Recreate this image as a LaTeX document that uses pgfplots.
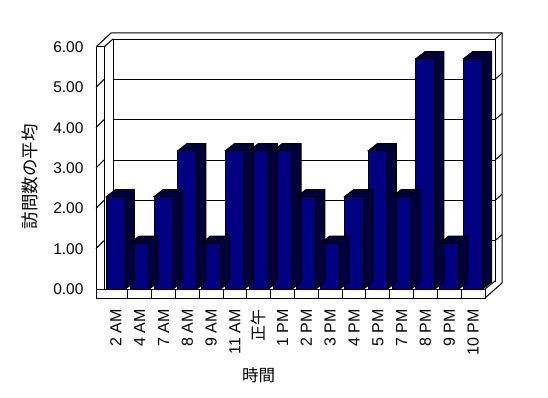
\documentclass[border=0pt]{standalone}
\usepackage{pgfplots}
\pgfplotsset{compat=1.18}
\usepackage{fontspec}
\setmainfont{Liberation Sans}
\newfontfamily\jp{Noto Sans CJK JP}
\definecolor{barfront}{RGB}{0,0,128}
\definecolor{bardepth}{RGB}{0,0,58}

\pgfdeclareplotmark{bar3d}{%
  \pgfpathmoveto{\pgfpoint{-9.5pt}{0pt}}%
  \pgfpathlineto{\pgfpoint{-0.5pt}{7pt}}%
  \pgfpathlineto{\pgfpoint{18.5pt}{7pt}}%
  \pgfpathlineto{\pgfpoint{18.5pt}{7pt-\myh*40.3333pt}}%
  \pgfpathlineto{\pgfpoint{9.5pt}{-\myh*40.3333pt}}%
  \pgfpathlineto{\pgfpoint{9.5pt}{0pt}}%
  \pgfpathclose
  \pgfusepathqfillstroke
}

\begin{document}
\begin{tikzpicture}
\useasboundingbox (0,0) rectangle (548pt,-398pt);
\fill[white] (0,0) rectangle (548pt,-398pt);

% back wall with gridlines
\begin{axis}[
  at={(113pt,-281pt)}, anchor=south west,
  scale only axis, width=382pt, height=242pt,
  xmin=0, xmax=1, ymin=0, ymax=6,
  xtick=\empty, ytick={0,1,2,3,4,5,6}, yticklabels={},
  major tick length=0pt,
  ymajorgrids, grid style={black, line width=1pt},
  axis line style={black, line width=1pt},
  axis background/.style={fill=white},
]
\end{axis}

\begin{scope}[x=1pt, y=-1pt, line width=1pt]
  % outer frame of walls
  \draw (96,47) -- (111,33) -- (502,33) -- (502,283);
  \draw (104,47) -- (113,39);
  \draw (495,39) -- (502,33);
  % floor top surface
  \fill[white] (104,289) -- (113,281) -- (495,281) -- (485,289) -- cycle;
  % left wall front
  \filldraw[fill=white] (96,47) rectangle (104,298);
  % floor front
  \filldraw[fill=white] (96,289) rectangle (485,298);
  \draw (485,298) -- (502,283);
  \draw (485,289) -- (495,281);
  \foreach \k in {1,...,15} \draw ({104+23.8125*\k},289) -- ({104+23.8125*\k},298);
  % small ticks on left wall and right wall edge
  \foreach \v in {1,...,5} {
    \draw (96,{289-40.3333*\v}) -- (104,{281-40.3333*\v});
    \draw (495,{281-40.3333*\v}) -- (502,{275-40.3333*\v});
  }
  % axis titles
  \node[rotate=90, font=\jp\fontsize{17.5}{20}\selectfont] at (30,176.5) {訪問数の平均};
  \node[font=\jp\fontsize{16.5}{19}\selectfont] at (258.5,375) {時間};
\end{scope}

% front axis with bars
\begin{axis}[
  at={(104pt,-289pt)}, anchor=south west,
  scale only axis, width=381pt, height=242pt,
  xmin=-0.5, xmax=15.5, ymin=0, ymax=6,
  clip=false,
  axis line style={draw=none},
  major tick length=0pt,
  xtick={0,...,15},
  xticklabels={2 AM,4 AM,7 AM,8 AM,9 AM,11 AM,{\jp 正午},1 PM,2 PM,3 PM,4 PM,5 PM,7 PM,8 PM,9 PM,10 PM},
  xticklabel style={rotate=90, anchor=east, font=\fontsize{16}{19}\selectfont},
  xticklabel shift=17pt,
  ytick={0,1,2,3,4,5,6},
  yticklabel style={font=\fontsize{15.5}{18}\selectfont, /pgf/number format/.cd, fixed, fixed zerofill, precision=2, assume math mode=true},
  yticklabel shift=17pt,
]
\addplot[only marks, mark=bar3d, visualization depends on={rawy \as \myh},
  mark options={fill=bardepth, draw=black, line width=1pt}]
  coordinates {(0,2.29) (1,1.14) (2,2.29) (3,3.43) (4,1.14) (5,3.43) (6,3.43) (7,3.43)
               (8,2.29) (9,1.14) (10,2.29) (11,3.43) (12,2.29) (13,5.71) (14,1.14) (15,5.71)};
\addplot[ybar, bar width=19pt, fill=barfront, draw=black, line width=1pt]
  coordinates {(0,2.29) (1,1.14) (2,2.29) (3,3.43) (4,1.14) (5,3.43) (6,3.43) (7,3.43)
               (8,2.29) (9,1.14) (10,2.29) (11,3.43) (12,2.29) (13,5.71) (14,1.14) (15,5.71)};
\end{axis}
\end{tikzpicture}
\end{document}
